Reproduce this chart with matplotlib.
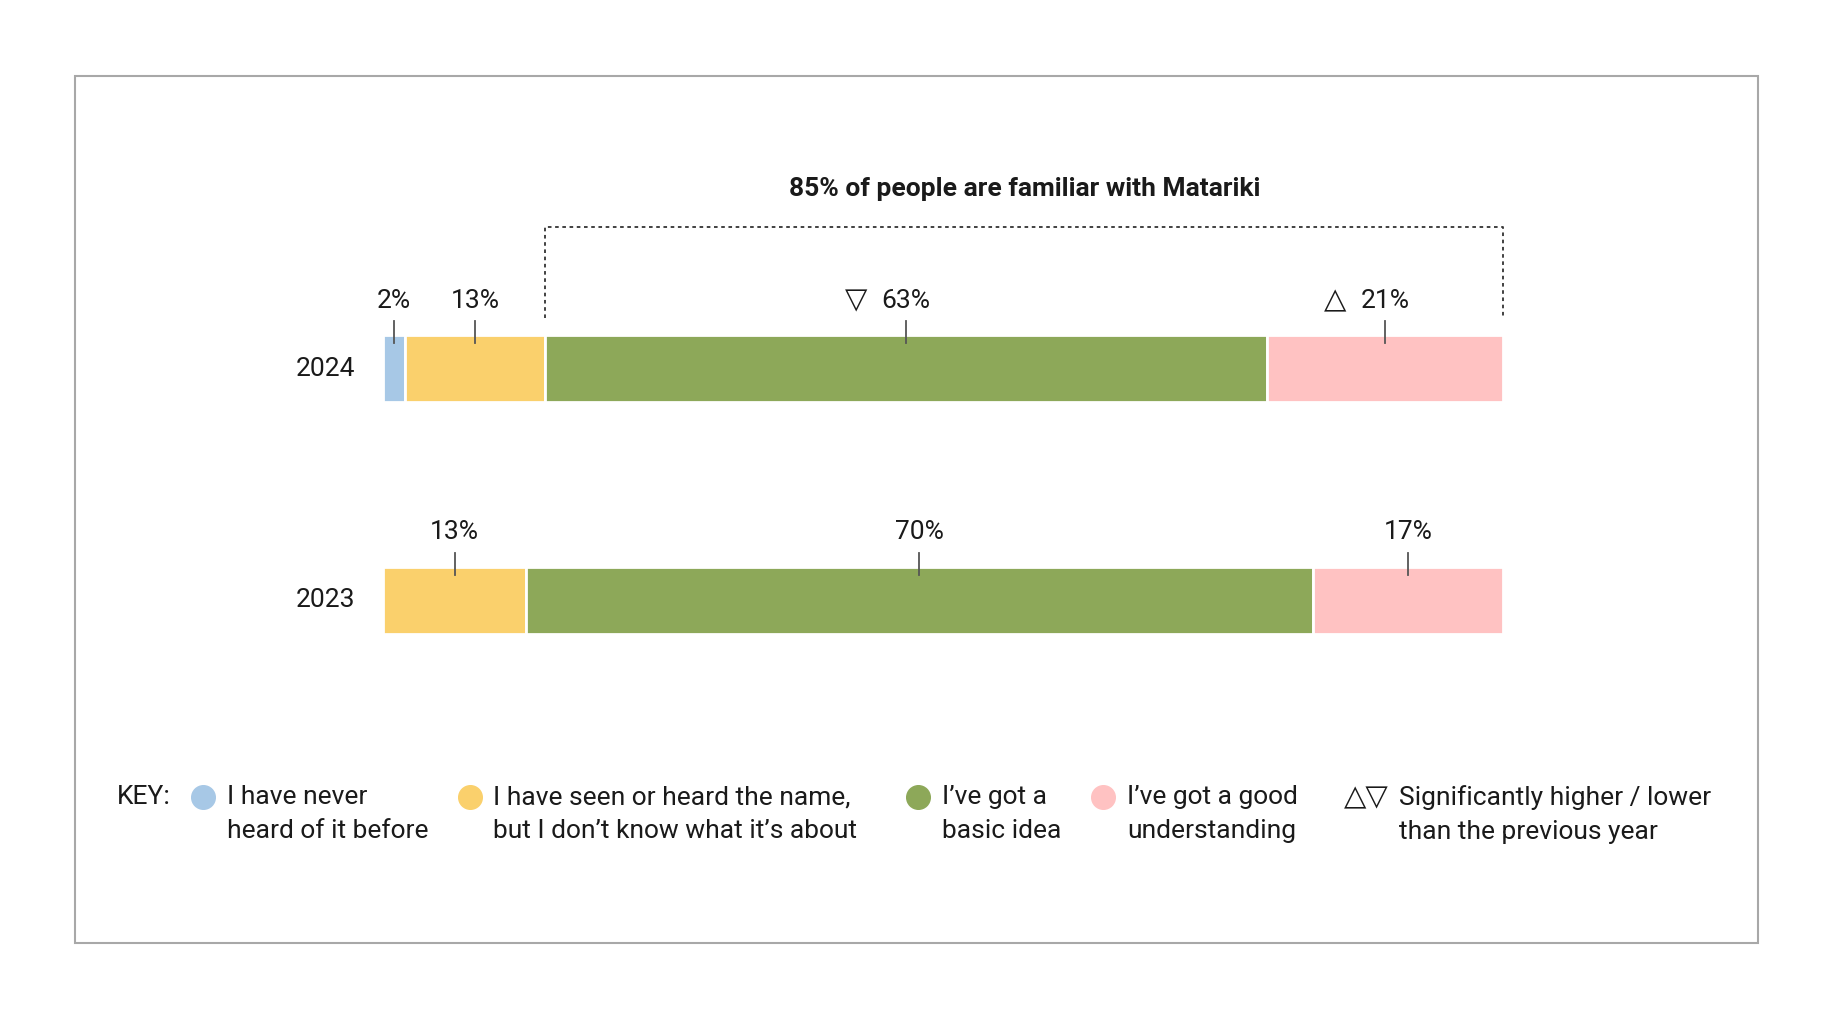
import matplotlib
matplotlib.use("Agg")
import matplotlib.pyplot as plt
import numpy as np
from matplotlib.lines import Line2D
from matplotlib.patches import Rectangle

# data
years = ["2024", "2023"]
categories = [
    "I have never\nheard of it before",
    "I have seen or heard the name,\nbut I don\u2019t know what it\u2019s about",
    "I\u2019ve got a\nbasic idea",
    "I\u2019ve got a good\nunderstanding",
]
# printed labels
labels_2024 = [2, 13, 63, 21]
labels_2023 = [None, 13, 70, 17]
# bar lengths as drawn (share of the full bar, %)
shares_2024 = [2.0, 12.5, 64.4, 21.1]
shares_2023 = [0.0, 12.8, 70.2, 17.0]
changes_2024 = ["", "", "down", "up"]
changes_2023 = ["", "", "", ""]
title = "85% of people are familiar with Matariki"

colors = ["#A7C8E6", "#FAD06C", "#8DA859", "#FFC2C2"]
text_color = "#1a1a1a"

plt.rcParams["font.family"] = ["Roboto", "DejaVu Sans"]

W, H = 1833, 1021
fig = plt.figure(figsize=(W / 100, H / 100), dpi=100)


def fx(x):
    return x / W


def fy(y):
    return 1 - y / H


# outer frame
fig.add_artist(Rectangle((fx(75), fy(943)), fx(1758) - fx(75), fy(76) - fy(943),
                         transform=fig.transFigure, fill=False,
                         edgecolor="#A8A8A8", linewidth=1.5))

# bar axes: x in percent, rows 0 (2024) and 1 (2023)
ax = fig.add_axes([fx(383), 0, fx(1120), 1])
row_px = 231.5
ax.set_xlim(0, 100)
ax.set_ylim((H - 368.5) / row_px, -368.5 / row_px)
ax.axis("off")

bar_h = 67 / row_px
rows = [
    (shares_2024, labels_2024, changes_2024),
    (shares_2023, labels_2023, changes_2023),
]
for r, (shares, labs, chg) in enumerate(rows):
    shares = np.array(shares, dtype=float)
    lefts = np.concatenate([[0], np.cumsum(shares)[:-1]])
    for i, (s, l) in enumerate(zip(shares, lefts)):
        if s == 0:
            continue
        ax.barh(r, s, left=l, height=bar_h, color=colors[i],
                edgecolor="white", linewidth=2.0)
        cx = l + s / 2
        ax.plot([cx, cx], [r - 47.5 / row_px, r - 25.5 / row_px],
                color="#555555", lw=1.3, clip_on=False)
        ax.text(cx, r - 68 / row_px, f"{labs[i]}%", ha="center", va="center",
                fontsize=19, color=text_color)
        if chg[i]:
            sym = "\u25BD" if chg[i] == "down" else "\u25B3"
            ax.annotate(sym, (cx, r - 68 / row_px), xytext=(-36, 0),
                        textcoords="offset points", ha="center", va="center",
                        fontsize=21, color=text_color, family="DejaVu Sans")
    ax.text(-2.5, r, years[r], ha="right", va="center", fontsize=19,
            color=text_color)

# bracket over the "familiar" share of 2024
start = shares_2024[0] + shares_2024[1]
top = -141.5 / row_px
low = -50.5 / row_px
ax.plot([start, start, 100, 100], [low, top, top, low], color="#333333",
        lw=1.3, ls=(0, (2, 2)), clip_on=False)
ax.text((start + 100) / 2, top - 38 / row_px, title, ha="center", va="center",
        fontsize=19, fontweight="bold", color=text_color)

# key
fig.text(fx(117), fy(797), "KEY:", ha="left", va="center", fontsize=19,
         color=text_color)
dot_x = [203, 470, 918, 1103]
text_x = [227, 493, 942, 1127]
for i, lab in enumerate(categories):
    fig.add_artist(Line2D([fx(dot_x[i])], [fy(797)], marker="o", markersize=17,
                          color=colors[i], transform=fig.transFigure))
    fig.text(fx(text_x[i]), fy(785), lab, ha="left", va="top", fontsize=19,
             color=text_color, linespacing=1.55)
fig.text(fx(1366), fy(797), "\u25B3\u25BD", ha="center", va="center",
         fontsize=21, color=text_color, family="DejaVu Sans")
fig.text(fx(1399), fy(785), "Significantly higher / lower\nthan the previous year",
         ha="left", va="top", fontsize=19, color=text_color, linespacing=1.55)

fig.savefig("out.png", dpi=100)
